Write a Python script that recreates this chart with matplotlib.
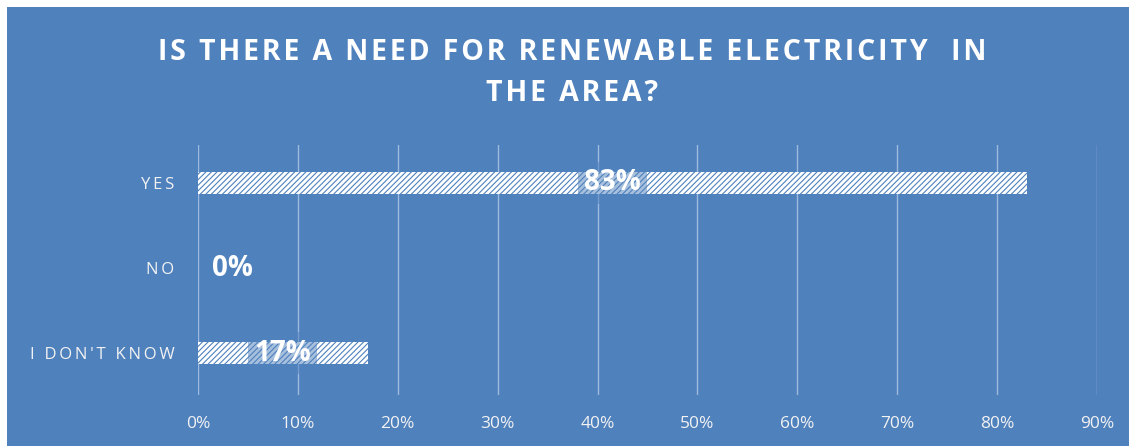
import matplotlib.pyplot as plt
from matplotlib.patches import Rectangle

categories = ["YES", "NO", "I DON'T KNOW"]
values = [83, 0, 17]
xticks = [0, 10, 20, 30, 40, 50, 60, 70, 80, 90]
title_lines = ["IS THERE A NEED FOR RENEWABLE ELECTRICITY  IN", "THE AREA?"]

bg = "#4F81BD"
fonts = ["Open Sans", "DejaVu Sans"]
plt.rcParams['hatch.linewidth'] = 0.8


def spaced(s, gap="\u200a"):
    # widen letter spacing like the original chart
    return gap.join(s)


fig = plt.figure(figsize=(11.29, 4.46), dpi=100)
fig.patch.set_facecolor("white")
fig.patches.append(Rectangle((7 / 1129, 0), 1, 1 - 7 / 446, transform=fig.transFigure,
                             facecolor=bg, edgecolor="none", zorder=-10))

ax = fig.add_axes([198 / 1129, 1 - 395 / 446, 899 / 1129, 250 / 446])
ax.set_facecolor("none")

ypos = list(range(len(categories)))
bars = ax.barh(ypos, values, height=0.26, color="white", edgecolor=bg,
               hatch="//////", linewidth=0, zorder=2)

ax.set_xlim(0, 90)
ax.set_ylim(2.494, -0.447)
ax.set_xticks(xticks)
ax.set_xticklabels([f"{v}%" for v in xticks], color="#F2F2F2", fontsize=12.5,
                   family=fonts)
ax.set_yticks(ypos)
ax.set_yticklabels([spaced(c, "\u2009") for c in categories], color="#F2F2F2",
                   fontsize=12, family=fonts)
ax.tick_params(axis="x", length=0, pad=15)
ax.tick_params(axis="y", length=0, pad=17)
ax.grid(axis="x", color="#9DB9DE", linewidth=1, zorder=1)
for s in ax.spines.values():
    s.set_visible(False)

for y, v in zip(ypos, values):
    if v > 0:
        ax.text(v / 2, y, f"{v}%", ha="center", va="center", color="white",
                fontsize=20, fontweight="bold", family=fonts, zorder=3,
                bbox=dict(boxstyle="square,pad=0.22", facecolor=bg, alpha=0.5,
                          edgecolor="none"))
    else:
        ax.text(1.4, y, f"{v}%", ha="left", va="center", color="white",
                fontsize=20, fontweight="bold", family=fonts, zorder=3)

fig.text(0.507, 1 - 73 / 446, "\n".join(spaced(l) for l in title_lines),
         ha="center", va="center", color="white", fontsize=20.5, fontweight="bold",
         family=fonts, linespacing=1.55)

fig.savefig("out.png", dpi=100)
